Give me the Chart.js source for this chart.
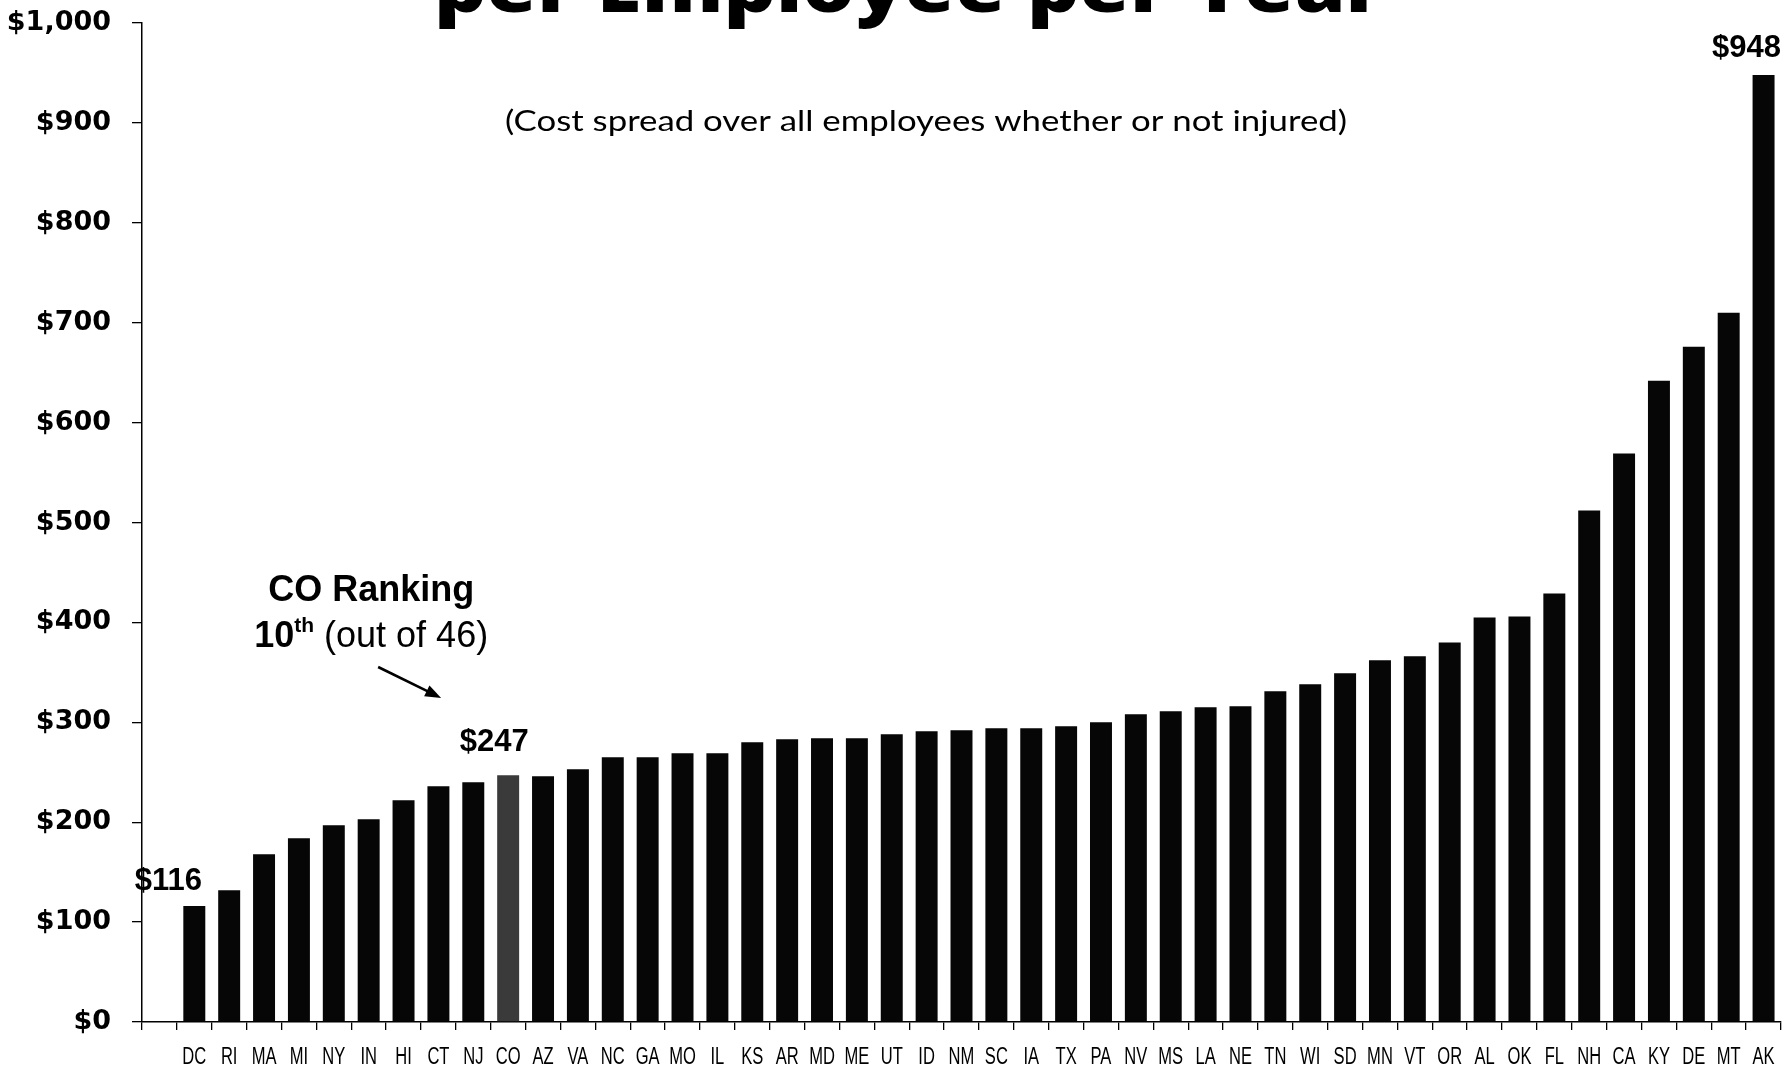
<!DOCTYPE html>
<html>
<head>
<meta charset="utf-8">
<title>Cost per Employee per Year</title>
<script src="https://cdn.jsdelivr.net/npm/chart.js@4.4.1/dist/chart.umd.min.js"></script>
<style>
  html, body { margin: 0; padding: 0; background: #fff; }
  #wrap { position: relative; width: 1790px; height: 1069px; }
</style>
</head>
<body>
<div id="wrap"><canvas id="chart"></canvas></div>
<script>
// States ranked from lowest to highest cost per employee
const states = ['DC', 'RI', 'MA', 'MI', 'NY', 'IN', 'HI', 'CT', 'NJ', 'CO',
  'AZ', 'VA', 'NC', 'GA', 'MO', 'IL', 'KS', 'AR', 'MD', 'ME',
  'UT', 'ID', 'NM', 'SC', 'IA', 'TX', 'PA', 'NV', 'MS', 'LA',
  'NE', 'TN', 'WI', 'SD', 'MN', 'VT', 'OR', 'AL', 'OK', 'FL',
  'NH', 'CA', 'KY', 'DE', 'MT', 'AK'];
const costs = [116, 132, 168, 184, 197, 203, 222, 236, 240, 247,
  246, 253, 265, 265, 269, 269, 280, 283, 284, 284,
  288, 291, 292, 294, 294, 296, 300, 308, 311, 315,
  316, 331, 338, 349, 362, 366, 380, 405, 406, 429,
  512, 569, 642, 676, 710, 948];
const yTicks = [0, 100, 200, 300, 400, 500, 600, 700, 800, 900, 1000];
const callouts = ['DC', 'CO', 'AK'];

const TITLE = 'per Employee per Year';
const SUBTITLE = '(Cost spread over all employees whether or not injured)';
const HIGHLIGHT = 'CO';

// leading blank slot keeps the first bar off the axis
const labels = [''].concat(states);
const values = [null].concat(costs);
const colors = labels.map(s => s === HIGHLIGHT ? '#3a3a3a' : '#060606');

const money = v => '$' + Number(v).toLocaleString('en-US');

// draw text squeezed or widened horizontally
function drawText(ctx, text, x, y, font, align, sx) {
  ctx.save();
  ctx.font = font;
  ctx.translate(x, y);
  ctx.scale(sx || 1, 1);
  ctx.textAlign = align || 'center';
  ctx.fillText(text, 0, 0);
  ctx.restore();
}

const annotations = {
  id: 'annotations',
  afterDraw(chart) {
    const { ctx, scales: { x, y } } = chart;
    ctx.save();
    ctx.fillStyle = '#000';
    ctx.textBaseline = 'alphabetic';

    // title (runs off the top edge) and subtitle
    ctx.font = '800 70px "Open Sans", Lato, sans-serif';
    let w = ctx.measureText(TITLE).width;
    drawText(ctx, TITLE, 909, 12, ctx.font, 'center', 950 / w);
    ctx.font = '29px Lato, "Open Sans", sans-serif';
    w = ctx.measureText(SUBTITLE).width;
    drawText(ctx, SUBTITLE, 926, 131, ctx.font, 'center', 842 / w);

    // condensed category labels under the axis
    ctx.textBaseline = 'middle';
    labels.forEach((s, i) => {
      if (!s) return;
      drawText(ctx, s, x.getPixelForValue(i), 1058, '23px "Liberation Sans", Arial, sans-serif', 'center', 0.72);
    });
    ctx.textBaseline = 'alphabetic';

    // value callouts above selected bars
    const offsets = { DC: [-26, -16], CO: [-14, -24], AK: [-17, -18] };
    callouts.forEach(s => {
      const i = labels.indexOf(s);
      const px = x.getPixelForValue(i);
      const py = y.getPixelForValue(values[i]);
      const [dx, dy] = offsets[s];
      drawText(ctx, money(values[i]), px + dx, py + dy, 'bold 31px "Liberation Sans", Arial, sans-serif', 'center');
    });

    // ranking note with arrow pointing to the highlighted bar
    const ci = labels.indexOf(HIGHLIGHT);
    const cx = x.getPixelForValue(ci);
    const rank = states.indexOf(HIGHLIGHT) + 1;
    drawText(ctx, HIGHLIGHT + ' Ranking', cx - 137, 601, 'bold 36px "Liberation Sans", Arial, sans-serif', 'center');

    ctx.font = 'bold 36px "Liberation Sans", Arial, sans-serif';
    const a = String(rank);
    const aw = ctx.measureText(a).width;
    ctx.font = 'bold 21px "Liberation Sans", Arial, sans-serif';
    const bw = ctx.measureText('th').width;
    ctx.font = '36px "Liberation Sans", Arial, sans-serif';
    const c = ' (out of ' + states.length + ')';
    const cw = ctx.measureText(c).width;
    let lx = cx - 137 - (aw + bw + cw) / 2;
    ctx.textAlign = 'left';
    ctx.font = 'bold 36px "Liberation Sans", Arial, sans-serif';
    ctx.fillText(a, lx, 647);
    lx += aw;
    ctx.font = 'bold 21px "Liberation Sans", Arial, sans-serif';
    ctx.fillText('th', lx, 632);
    lx += bw;
    ctx.font = '36px "Liberation Sans", Arial, sans-serif';
    ctx.fillText(c, lx, 647);

    const x0 = cx - 130, y0 = 667, x1 = cx - 67, y1 = 698;
    const ang = Math.atan2(y1 - y0, x1 - x0);
    ctx.strokeStyle = '#000';
    ctx.lineWidth = 2.6;
    ctx.beginPath();
    ctx.moveTo(x0, y0);
    ctx.lineTo(x1 - 12 * Math.cos(ang), y1 - 12 * Math.sin(ang));
    ctx.stroke();
    ctx.beginPath();
    ctx.moveTo(x1, y1);
    ctx.lineTo(x1 - 16 * Math.cos(ang) + 6 * Math.sin(ang), y1 - 16 * Math.sin(ang) - 6 * Math.cos(ang));
    ctx.lineTo(x1 - 16 * Math.cos(ang) - 6 * Math.sin(ang), y1 - 16 * Math.sin(ang) + 6 * Math.cos(ang));
    ctx.closePath();
    ctx.fill();
    ctx.restore();
  }
};

new Chart(document.getElementById('chart'), {
  type: 'bar',
  data: {
    labels,
    datasets: [{
      data: values,
      backgroundColor: colors,
      borderWidth: 0,
      barPercentage: 0.63,
      categoryPercentage: 1
    }]
  },
  options: {
    responsive: true,
    maintainAspectRatio: false,
    animation: false,
    layout: { padding: { top: 23, right: 9, left: 0, bottom: 0 } },
    plugins: {
      legend: { display: false },
      tooltip: { enabled: false },
      title: { display: false }
    },
    scales: {
      x: {
        grid: {
          offset: true,
          drawOnChartArea: false,
          drawTicks: true,
          tickLength: 8,
          color: '#000',
          lineWidth: 1.3
        },
        border: { display: true, color: '#000', width: 1.5 },
        // labels are drawn condensed by the annotations plugin
        ticks: {
          autoSkip: false,
          maxRotation: 0,
          minRotation: 0,
          color: 'rgba(0,0,0,0)',
          font: { size: 12 }
        },
        afterFit: scale => {
          scale.height = 47;
          scale.paddingLeft = 0;
          scale.paddingRight = 0;
        }
      },
      y: {
        min: 0,
        max: 1000,
        afterBuildTicks: scale => { scale.ticks = yTicks.map(v => ({ value: v })); },
        grid: {
          drawOnChartArea: false,
          drawTicks: true,
          tickLength: 10,
          color: '#000',
          lineWidth: 1.3
        },
        border: { display: true, color: '#000', width: 1.5 },
        ticks: {
          padding: 21,
          color: '#000',
          font: { family: '"DejaVu Sans", sans-serif', size: 27, weight: 'bold' },
          callback: v => money(v)
        },
        afterFit: scale => {
          scale.width = 142;
          scale.paddingTop = 0;
          scale.paddingBottom = 0;
        }
      }
    }
  },
  plugins: [annotations]
});
</script>
</body>
</html>
